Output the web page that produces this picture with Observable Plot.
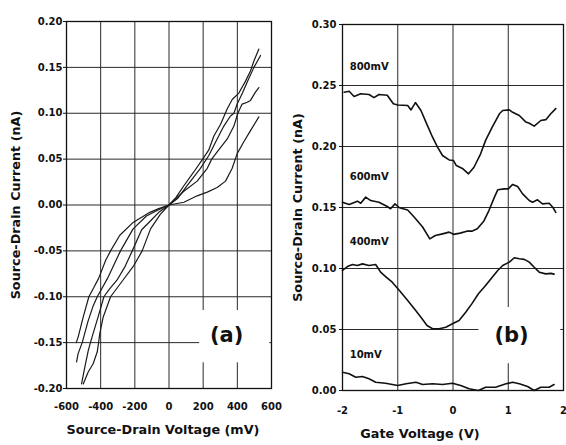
<!DOCTYPE html>
<html><head><meta charset="utf-8">
<script src="https://cdn.jsdelivr.net/npm/d3@7"></script>
<script src="https://cdn.jsdelivr.net/npm/@observablehq/plot@0.6"></script>
<style>
body{margin:0;background:#fff;}
#wrap{position:relative;width:566px;height:445px;background:#fff;}
#wrap > svg{position:absolute;top:0;}
</style></head><body><div id="wrap"></div>
<script>
// ---------- Panel (a): I-V curves ----------
const aXTicks = [-600,-400,-200,0,200,400,600];
const aYTicks = [-0.20,-0.15,-0.10,-0.05,0.00,0.05,0.10,0.15,0.20];

const c1V = [-502,-473,-444,-420,-412,-405,-385,-342,-270,-206,-157,-108,-50,0,40,87,145,204,233,262,302,341,370,409,448,477,497,526];
const c1I = [-0.195,-0.182,-0.173,-0.160,-0.150,-0.140,-0.122,-0.100,-0.082,-0.066,-0.050,-0.026,-0.010,0,0.008,0.021,0.036,0.052,0.060,0.075,0.088,0.105,0.115,0.122,0.135,0.146,0.157,0.170];
const c2V = [-512,-493,-473,-460,-444,-415,-381,-350,-305,-260,-215,-160,-112,-60,0,50,106,184,233,282,321,360,380,399,430,458,497,536];
const c2I = [-0.195,-0.177,-0.159,-0.150,-0.140,-0.122,-0.100,-0.092,-0.082,-0.068,-0.050,-0.027,-0.018,-0.008,0,0.007,0.021,0.040,0.054,0.072,0.086,0.097,0.100,0.110,0.122,0.134,0.150,0.163];
const c3V = [-541,-532,-508,-473,-444,-420,-360,-284,-210,-132,-70,0,87,165,224,250,282,341,380,403,428,458,477,506,526];
const c3I = [-0.171,-0.162,-0.150,-0.126,-0.110,-0.100,-0.080,-0.050,-0.026,-0.012,-0.006,0,0.015,0.026,0.040,0.050,0.058,0.072,0.086,0.100,0.110,0.112,0.114,0.123,0.128];
const c4V = [-543,-532,-502,-469,-440,-412,-370,-342,-288,-210,-112,-60,0,87,165,224,282,331,370,399,438,477,526];
const c4I = [-0.150,-0.144,-0.122,-0.100,-0.090,-0.080,-0.060,-0.050,-0.033,-0.019,-0.008,-0.004,0,0.003,0.010,0.014,0.019,0.026,0.040,0.056,0.069,0.081,0.096];

// ---------- Panel (b): current vs gate voltage ----------
const bXTicks = [-2,-1,0,1,2];
const bYTicks = [0.00,0.05,0.10,0.15,0.20,0.25,0.30];
const bSeriesNames = ["800mV","600mV","400mV","10mV"];

const g800V = [-1.97,-1.88,-1.79,-1.67,-1.52,-1.43,-1.34,-1.19,-1.08,-1.00,-0.82,-0.76,-0.68,-0.58,-0.49,-0.37,-0.28,-0.19,-0.07,0.01,0.06,0.18,0.28,0.38,0.50,0.59,0.71,0.84,0.90,1.02,1.08,1.20,1.32,1.38,1.47,1.59,1.68,1.77,1.86];
const g800I = [0.2445,0.2453,0.241,0.2432,0.2426,0.240,0.2426,0.242,0.235,0.234,0.2336,0.230,0.236,0.2295,0.220,0.2076,0.1995,0.1926,0.189,0.1885,0.1844,0.1817,0.1776,0.183,0.194,0.205,0.2158,0.2268,0.2295,0.230,0.228,0.2254,0.220,0.219,0.2167,0.2213,0.222,0.2268,0.231];
const g600V = [-2.0,-1.88,-1.73,-1.67,-1.58,-1.49,-1.34,-1.19,-1.13,-1.05,-0.97,-0.82,-0.70,-0.55,-0.42,-0.32,-0.19,-0.07,0.01,0.13,0.25,0.34,0.44,0.56,0.65,0.75,0.81,0.93,1.00,1.08,1.17,1.26,1.38,1.44,1.53,1.62,1.74,1.81,1.86];
const g600I = [0.1543,0.1525,0.1552,0.1535,0.1585,0.1557,0.1543,0.1508,0.149,0.153,0.1498,0.148,0.142,0.134,0.1243,0.127,0.1284,0.1298,0.128,0.129,0.1306,0.1306,0.1325,0.139,0.1475,0.1585,0.1645,0.1653,0.1653,0.1689,0.1672,0.1612,0.1557,0.1543,0.1563,0.153,0.1535,0.150,0.146];
const g400V = [-2.0,-1.91,-1.82,-1.73,-1.64,-1.52,-1.40,-1.31,-1.22,-1.10,-0.97,-0.82,-0.70,-0.58,-0.47,-0.37,-0.25,-0.13,-0.01,0.11,0.23,0.34,0.46,0.59,0.71,0.81,0.90,1.02,1.11,1.20,1.29,1.38,1.47,1.56,1.68,1.77,1.83];
const g400I = [0.0984,0.1016,0.1033,0.1025,0.1038,0.1025,0.1033,0.097,0.0934,0.0888,0.082,0.0738,0.067,0.060,0.0533,0.0506,0.0506,0.0519,0.0547,0.0574,0.0642,0.071,0.0793,0.086,0.0929,0.0984,0.1025,0.1052,0.1088,0.108,0.1075,0.1052,0.101,0.097,0.0956,0.096,0.0954];
const g10V = [-2.0,-1.88,-1.76,-1.64,-1.52,-1.40,-1.22,-1.00,-0.85,-0.67,-0.55,-0.37,-0.19,-0.01,0.14,0.29,0.46,0.59,0.77,0.96,1.08,1.20,1.35,1.47,1.59,1.74,1.83];
const g10I = [0.015,0.0137,0.0109,0.0115,0.0096,0.0068,0.006,0.0041,0.0055,0.0068,0.0049,0.0055,0.0049,0.006,0.0041,0.0014,0.0,0.0027,0.0027,0.0055,0.0068,0.0055,0.0033,0.0,0.0027,0.0027,0.0049];

// label anchor values (data units)
const bLabelV = [-1.87,-1.87,-1.87,-1.87];
const bLabelI = [0.2656,0.1754,0.122,0.0295];

const zip = (xs, ys, s) => xs.map((x, i) => ({x, y: ys[i], s}));
const fmtA = d => (d < 0 ? "-" : "") + Math.abs(d).toFixed(2);
const fmtX = d => (d < 0 ? "-" : "") + Math.abs(d);

const baseStyle = {fontFamily: "DejaVu Sans", fontWeight: "bold", fontSize: "10px", color: "#111", background: "transparent", overflow: "visible"};

const dataA = [...zip(c1V,c1I,"1"), ...zip(c2V,c2I,"2"), ...zip(c3V,c3I,"3"), ...zip(c4V,c4I,"4")];

const plotA = Plot.plot({
  width: 283, height: 445,
  marginLeft: 66, marginRight: 12, marginTop: 21, marginBottom: 57,
  x: {domain: [-600, 600]},
  y: {domain: [-0.2, 0.2]},
  style: baseStyle,
  marks: [
    Plot.ruleY(aYTicks, {stroke: "#2a2a2a", strokeWidth: 1}),
    Plot.ruleX(aXTicks, {stroke: "#2a2a2a", strokeWidth: 1}),
    Plot.rect([{x1: 180, x2: 590, y1: -0.172, y2: -0.115}], {x1: "x1", x2: "x2", y1: "y1", y2: "y2", fill: "white"}),
    Plot.frame({stroke: "#111", strokeWidth: 1.3}),
    Plot.axisX({ticks: aXTicks, tickFormat: fmtX, tickSize: 0, tickPadding: 14, label: null}),
    Plot.axisY({ticks: aYTicks, tickFormat: fmtA, tickSize: 3, tickPadding: 1, label: null}),
    Plot.line(dataA, {x: "x", y: "y", z: "s", stroke: "#1a1a1a", strokeWidth: 1.2}),
    Plot.text(["(a)"], {x: [337], y: [-0.142], text: d => d, fontSize: 21, fontWeight: "bold"}),
    Plot.text(["Source-Drain Voltage (mV)"], {frameAnchor: "bottom", dy: 45, dx: -6, text: d => d, fontSize: 12.8, fontWeight: "bold", textAnchor: "middle"}),
    Plot.text(["Source-Drain Current (nA)"], {frameAnchor: "left", dx: -51, rotate: -90, text: d => d, fontSize: 12.8, fontWeight: "bold", textAnchor: "middle"})
  ]
});
plotA.style.left = "0px";

const dataB = [...zip(g800V,g800I,"800"), ...zip(g600V,g600I,"600"), ...zip(g400V,g400I,"400"), ...zip(g10V,g10I,"10")];
const labelsB = bSeriesNames.map((t, i) => ({t, x: bLabelV[i], y: bLabelI[i]}));

const plotB = Plot.plot({
  width: 283, height: 445,
  marginLeft: 59, marginRight: 3, marginTop: 24, marginBottom: 55,
  x: {domain: [-2, 2]},
  y: {domain: [0, 0.3]},
  style: baseStyle,
  marks: [
    Plot.ruleY(bYTicks, {stroke: "#2a2a2a", strokeWidth: 1}),
    Plot.ruleX(bXTicks, {stroke: "#2a2a2a", strokeWidth: 1}),
    Plot.rect([{x1: 0.47, x2: 1.95, y1: 0.022, y2: 0.068}], {x1: "x1", x2: "x2", y1: "y1", y2: "y2", fill: "white"}),
    Plot.frame({stroke: "#111", strokeWidth: 1.3}),
    Plot.axisX({ticks: bXTicks, tickFormat: fmtX, tickSize: 0, tickPadding: 16, label: null}),
    Plot.axisY({ticks: bYTicks, tickFormat: fmtA, tickSize: 3, tickPadding: 3, label: null}),
    Plot.line(dataB, {x: "x", y: "y", z: "s", stroke: "#111", strokeWidth: 1.6}),
    Plot.text(labelsB, {x: "x", y: "y", text: "t", textAnchor: "start", fontSize: 10, fontWeight: "bold"}),
    Plot.text(["(b)"], {x: [1.06], y: [0.045], text: d => d, fontSize: 21, fontWeight: "bold"}),
    Plot.text(["Gate Voltage (V)"], {frameAnchor: "bottom", dy: 47, dx: -33, text: d => d, fontSize: 12.8, fontWeight: "bold", textAnchor: "middle"}),
    Plot.text(["Source-Drain Current (nA)"], {frameAnchor: "left", dx: -45, rotate: -90, text: d => d, fontSize: 12.8, fontWeight: "bold", textAnchor: "middle"})
  ]
});
plotB.style.left = "283px";

const wrap = document.getElementById("wrap");
wrap.appendChild(plotA);
wrap.appendChild(plotB);
</script></body></html>
